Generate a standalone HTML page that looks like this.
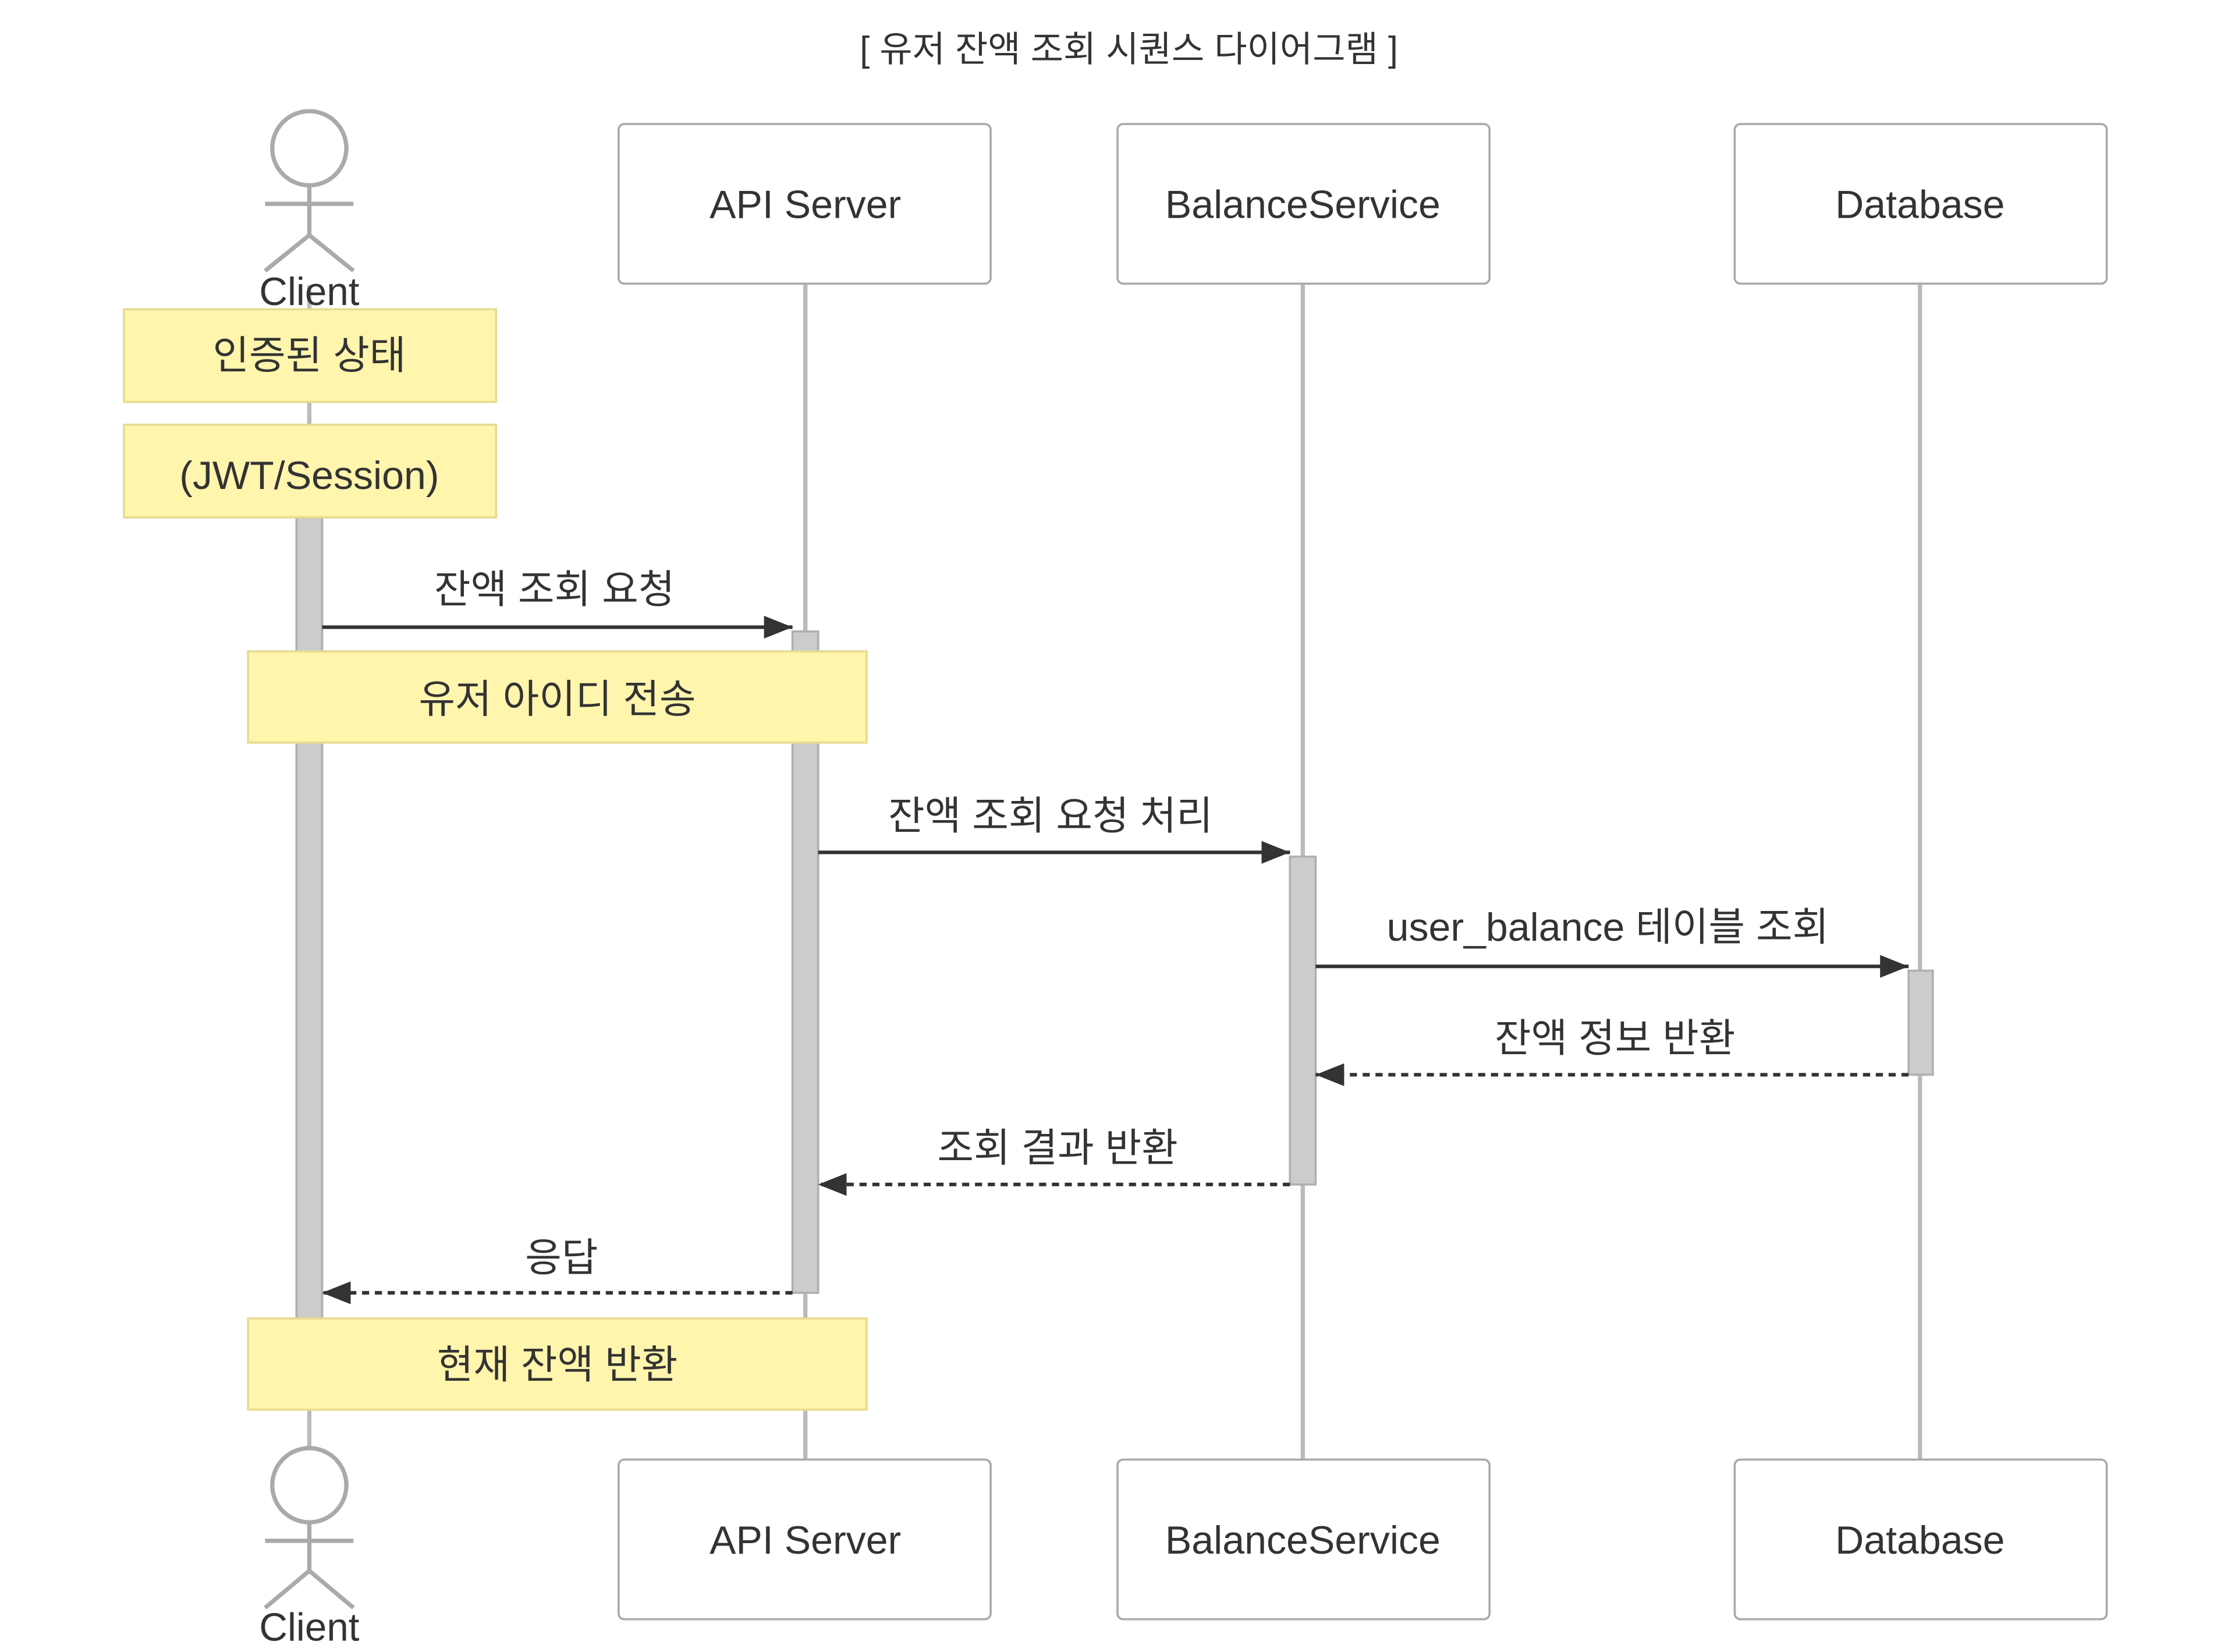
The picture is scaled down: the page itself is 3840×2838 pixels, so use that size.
<!DOCTYPE html>
<html><head><meta charset="utf-8"><style>
html,body{margin:0;padding:0;background:#fff;}
svg{display:block;}
text{font-family:"Liberation Sans","Noto Sans CJK KR",sans-serif;fill:#333;}
</style></head><body>
<svg width="3840" height="2838" viewBox="0 0 1568 1159" preserveAspectRatio="none" xmlns="http://www.w3.org/2000/svg">
<defs>
<marker id="ah" markerWidth="20" markerHeight="16" refX="20" refY="8" orient="auto" markerUnits="userSpaceOnUse">
<path d="M0,0 L20,8 L0,16 z" fill="#333"/></marker>
</defs>
<rect width="1568" height="1159" fill="#fff"/>
<text x="792" y="43" font-size="25" text-anchor="middle">[ 유저 잔액 조회 시퀀스 다이어그램 ]</text>

<g stroke="#bbb" stroke-width="3">
<line x1="217" y1="200" x2="217" y2="1020"/>
<line x1="565" y1="199" x2="565" y2="1024"/>
<line x1="914" y1="199" x2="914" y2="1024"/>
<line x1="1347" y1="199" x2="1347" y2="1024"/>
</g>

<g fill="none" stroke="#aaa" stroke-width="3">
<circle cx="217" cy="104" r="26" fill="#fff"/>
<line x1="217" y1="130" x2="217" y2="165"/>
<line x1="186" y1="143" x2="248" y2="143"/>
<line x1="217" y1="165" x2="186" y2="190"/>
<line x1="217" y1="165" x2="248" y2="190"/>
<circle cx="217" cy="1042" r="26" fill="#fff"/>
<line x1="217" y1="1068" x2="217" y2="1102"/>
<line x1="186" y1="1081" x2="248" y2="1081"/>
<line x1="217" y1="1102" x2="186" y2="1128"/>
<line x1="217" y1="1102" x2="248" y2="1128"/>
</g>
<text x="217" y="214" font-size="27.5" text-anchor="middle">Client</text>
<text x="217" y="1151" font-size="27.5" text-anchor="middle">Client</text>

<g fill="#fff" stroke="#aaa" stroke-width="1.5">
<rect x="434" y="87" width="261" height="112" rx="4"/>
<rect x="784" y="87" width="261" height="112" rx="4"/>
<rect x="1217" y="87" width="261" height="112" rx="4"/>
<rect x="434" y="1024" width="261" height="112" rx="4"/>
<rect x="784" y="1024" width="261" height="112" rx="4"/>
<rect x="1217" y="1024" width="261" height="112" rx="4"/>
</g>
<g font-size="27.8" text-anchor="middle">
<text x="565" y="153">API Server</text>
<text x="914" y="153">BalanceService</text>
<text x="1347" y="153">Database</text>
<text x="565" y="1090">API Server</text>
<text x="914" y="1090">BalanceService</text>
<text x="1347" y="1090">Database</text>
</g>

<g fill="#ccc" stroke="#b0b0b0" stroke-width="1.5">
<rect x="208" y="363" width="18" height="562"/>
<rect x="556" y="443" width="18" height="464"/>
<rect x="905" y="601" width="18" height="230"/>
<rect x="1339" y="681" width="17" height="73"/>
</g>

<g fill="#fff5ad" stroke="#e6dc8e" stroke-width="1.5">
<rect x="87" y="217" width="261" height="65"/>
<rect x="87" y="298" width="261" height="65"/>
<rect x="174" y="457" width="434" height="64"/>
<rect x="174" y="925" width="434" height="64"/>
</g>
<g font-size="27.8" text-anchor="middle">
<text x="217" y="259">인증된 상태</text>
<text x="217" y="343">(JWT/Session)</text>
<text x="391" y="500">유저 아이디 전송</text>
<text x="391" y="967">현재 잔액 반환</text>
</g>

<g stroke="#333" stroke-width="2.5" fill="none">
<line x1="226" y1="440" x2="556" y2="440" marker-end="url(#ah)"/>
<line x1="574" y1="598" x2="905" y2="598" marker-end="url(#ah)"/>
<line x1="923" y1="678" x2="1339" y2="678" marker-end="url(#ah)"/>
<line x1="1339" y1="754" x2="923" y2="754" stroke-dasharray="5,4" marker-end="url(#ah)"/>
<line x1="905" y1="831" x2="574" y2="831" stroke-dasharray="5,4" marker-end="url(#ah)"/>
<line x1="556" y1="907" x2="226" y2="907" stroke-dasharray="5,4" marker-end="url(#ah)"/>
</g>
<g font-size="27.8" text-anchor="middle">
<text x="389" y="423">잔액 조회 요청</text>
<text x="737" y="582">잔액 조회 요청 처리</text>
<text x="1128" y="660">user_balance 테이블 조회</text>
<text x="1133" y="738">잔액 정보 반환</text>
<text x="742" y="815">조회 결과 반환</text>
<text x="394" y="892">응답</text>
</g>
</svg>
</body></html>
